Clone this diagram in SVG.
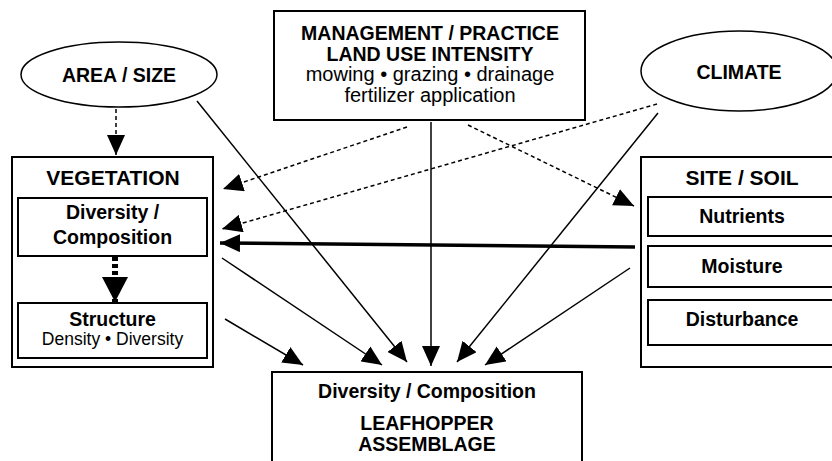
<svg xmlns="http://www.w3.org/2000/svg" width="832" height="461" viewBox="0 0 832 461">
<defs>
<marker id="ah" markerUnits="userSpaceOnUse" markerWidth="20" markerHeight="18" refX="20" refY="9" orient="auto" viewBox="0 0 20 18"><path d="M0,0 L20,9 L0,18 Z" fill="#000"/></marker>
<marker id="ahBig" markerUnits="userSpaceOnUse" markerWidth="25" markerHeight="26" refX="25" refY="13" orient="auto" viewBox="0 0 25 26"><path d="M0,0 L25,13 L0,26 Z" fill="#000"/></marker>
</defs>
<style>
.box{fill:#fff;stroke:#000;stroke-width:2}
.ell{fill:#fff;stroke:#000;stroke-width:1.5}
.t{font-family:"Liberation Sans",Arial,sans-serif;text-anchor:middle;fill:#000}
.b{font-weight:bold;font-size:19.5px}
.h{font-weight:bold;font-size:21px}
.r{font-size:20px}
.s{font-size:17.5px}
.solid{stroke:#000;stroke-width:1.5;fill:none;marker-end:url(#ah)}
.dash{stroke:#000;stroke-width:1.5;stroke-dasharray:4 3;fill:none;marker-end:url(#ah)}
</style>
<rect width="832" height="461" fill="#fff"/>

<g id="area">
<ellipse class="ell" cx="119" cy="74.5" rx="98" ry="32.5"/>
<text class="t b" x="119" y="82">AREA / SIZE</text>
</g>

<g id="management">
<rect class="box" x="274" y="11" width="311" height="109"/>
<text class="t b" x="430" y="40">MANAGEMENT / PRACTICE</text>
<text class="t b" x="430" y="61">LAND USE INTENSITY</text>
<text class="t r" x="430" y="81">mowing • grazing • drainage</text>
<text class="t r" x="430" y="102">fertilizer application</text>
</g>

<g id="climate">
<ellipse class="ell" cx="739" cy="71" rx="98" ry="40"/>
<text class="t b" x="739" y="79">CLIMATE</text>
</g>

<g id="vegetation">
<rect class="box" x="12" y="157" width="201" height="210"/>
<text class="t h" x="113" y="185">VEGETATION</text>
<g id="veg-diversity">
<rect class="box" x="18" y="198" width="189" height="58"/>
<text class="t b" x="112.5" y="219">Diversity /</text>
<text class="t b" x="112.5" y="244">Composition</text>
</g>
<g id="veg-structure">
<rect class="box" x="18" y="303" width="189" height="55"/>
<text class="t b" x="112.5" y="326">Structure</text>
<text class="t s" x="112.5" y="345">Density • Diversity</text>
</g>
</g>

<g id="site">
<rect class="box" x="641" y="157" width="202" height="210"/>
<text class="t h" x="742" y="185">SITE / SOIL</text>
<g id="site-nutrients">
<rect class="box" x="648" y="197" width="190" height="39"/>
<text class="t b" x="742" y="223">Nutrients</text>
</g>
<g id="site-moisture">
<rect class="box" x="648" y="246" width="190" height="41"/>
<text class="t b" x="742" y="273">Moisture</text>
</g>
<g id="site-disturbance">
<rect class="box" x="648" y="300" width="190" height="45"/>
<text class="t b" x="742" y="326">Disturbance</text>
</g>
</g>

<g id="leafhopper">
<rect class="box" x="272" y="372" width="310" height="100"/>
<text class="t b" x="427" y="398">Diversity / Composition</text>
<text class="t b" x="427" y="430">LEAFHOPPER</text>
<text class="t b" x="427" y="451">ASSEMBLAGE</text>
</g>

<g id="connectors">
<path class="dash" d="M116,109 L116,155"/>
<path d="M115,257 L115,302" stroke="#000" stroke-width="6" stroke-dasharray="4 3" fill="none" marker-end="url(#ahBig)"/>
<path class="solid" d="M197,101 L407,362"/>
<path class="solid" d="M431,122 L431,366"/>
<path class="solid" d="M658,113 L457,362"/>
<path class="solid" d="M222,258 L382,365"/>
<path class="solid" d="M225,319 L303,365"/>
<path class="solid" d="M630,268 L485,365"/>
<path class="dash" d="M407,127 L223,189"/>
<path class="dash" d="M657,104 L222,229"/>
<path class="dash" d="M468,125 L634,206"/>
<path d="M635,247 L220,243" stroke="#000" stroke-width="3.5" fill="none" marker-end="url(#ah)"/>
</g>
</svg>
